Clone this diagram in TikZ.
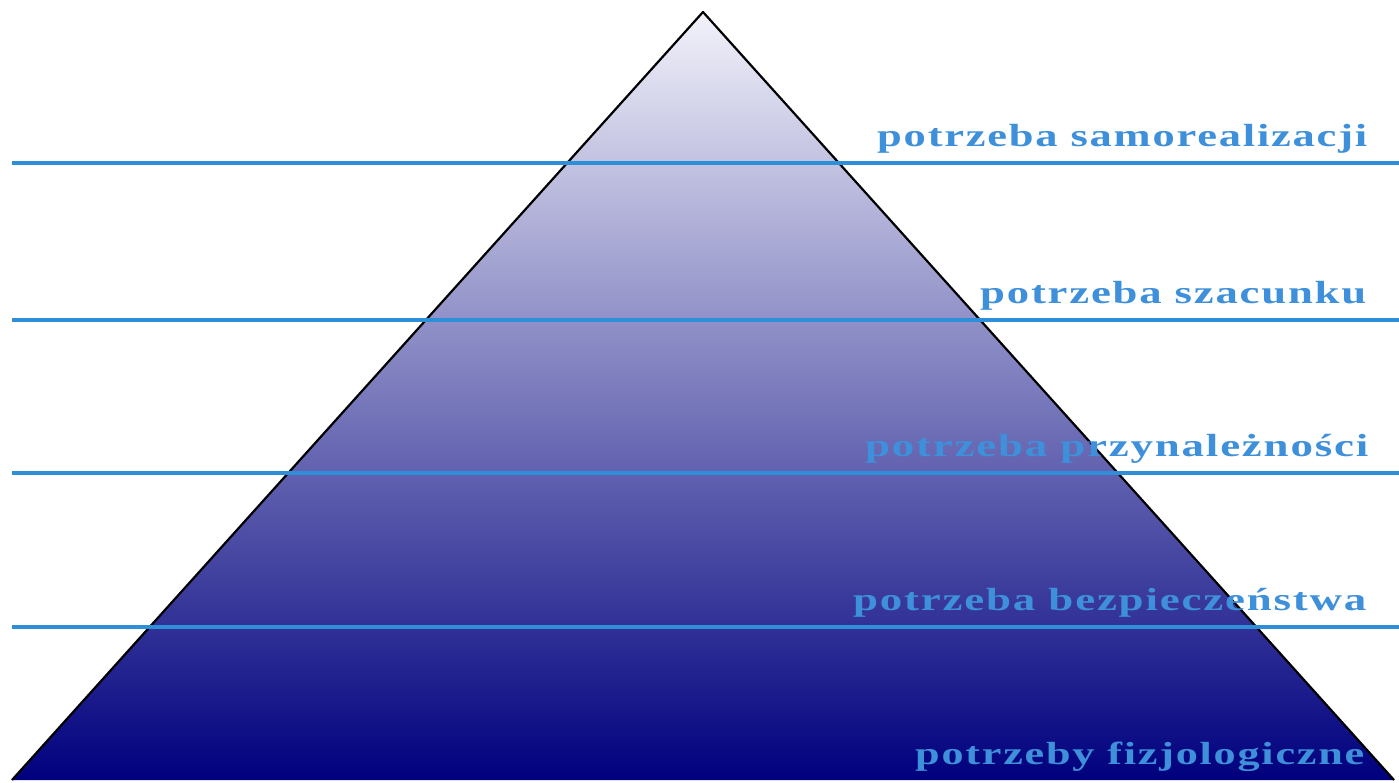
\documentclass[tikz,border=0pt]{standalone}
\usepackage{fontspec}
\usepackage{graphicx}
\newfontfamily\labelfont[LetterSpace=4]{Liberation Serif}
\definecolor{toptint}{HTML}{F2F2FA}
\definecolor{navy}{HTML}{00007E}
\definecolor{levelline}{HTML}{2E8FD8}
\definecolor{labelblue}{HTML}{3E90DA}
\begin{document}
\begin{tikzpicture}[x=1pt,y=-1pt,
  level/.style={draw=levelline,line width=3.2pt},
  lbl/.style={anchor=base west,inner sep=0pt,text=labelblue,font=\labelfont\bfseries\fontsize{32}{35}\selectfont}]
\useasboundingbox (0,0) rectangle (1399,782);
\fill[white] (0,0) rectangle (1399,782);
\coordinate (apex) at (703,12);
\coordinate (bl) at (12,780);
\coordinate (br) at (1394,780);
\shade[top color=toptint,bottom color=navy] (apex) -- (br) -- (bl) -- cycle;
\draw[black,line width=2.2pt,line join=round] (bl) -- (apex) -- (br);
\foreach \yy/\nm in {163/a,320/b,473/c,627/d}{
  \coordinate (l\nm) at (12,\yy);
  \coordinate (r\nm) at (1399,\yy);
  \draw[level] (l\nm) -- (r\nm);
}
\node[lbl] (t1) at (877,146) {\resizebox{490pt}{\height}{potrzeba samorealizacji}};
\node[lbl] (t2) at (980,303) {\resizebox{386pt}{\height}{potrzeba szacunku}};
\node[lbl] (t3) at (865,456) {\resizebox{503pt}{\height}{potrzeba przynależności}};
\node[lbl] (t4) at (853,610) {\resizebox{513pt}{\height}{potrzeba bezpieczeństwa}};
\node[lbl] (t5) at (915,764) {\resizebox{449pt}{\height}{potrzeby fizjologiczne}};
\end{tikzpicture}
\end{document}
